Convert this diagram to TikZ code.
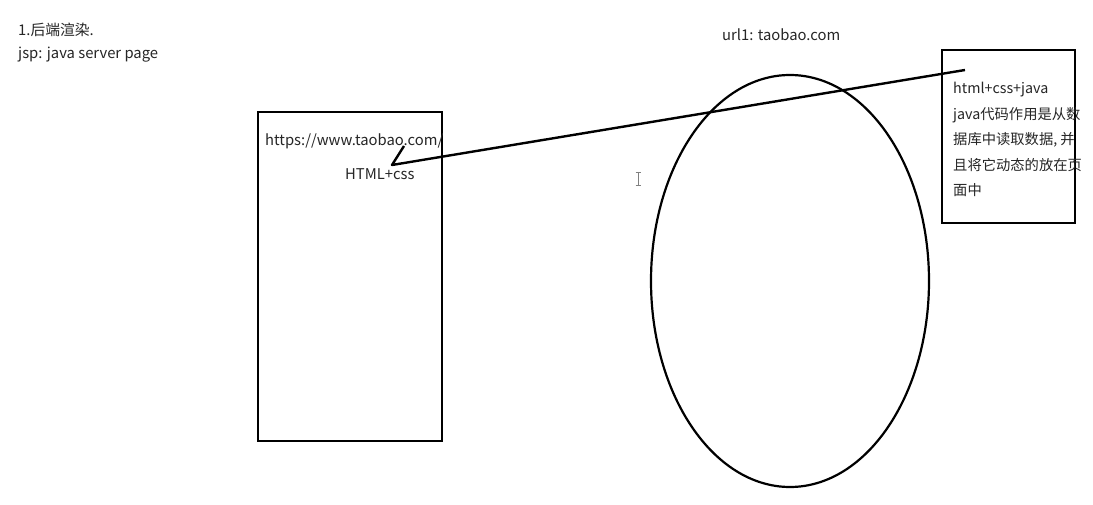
\documentclass[tikz,border=0pt]{standalone}
\usepackage{fontspec}
\setmainfont{Noto Sans CJK SC}
\begin{document}
\begin{tikzpicture}[x=1pt,y=-1pt,
  txt/.style={anchor=west,inner sep=0pt,font=\fontsize{14.8}{17}\selectfont,text=black!85},
  ctxt/.style={txt,font=\fontsize{14.3}{17}\selectfont},
  box/.style={draw,line width=2.2pt},
  pen/.style={line width=2.4pt,line join=round}]
\useasboundingbox[fill=white] (0,0) rectangle (1093,505);
\node[txt] (t1) at (18,30) {1.后端渲染.};
\node[txt] (t2) at (18,55) {jsp: java server page};
\node[txt] (url) at (722,35) {url1: taobao.com};
\draw[box] (258,112) rectangle (442,441);
\node[txt] (addr) at (265,141) {https://www.taobao.com/};
\node[txt] (html) at (345,174) {HTML+css};
\draw[box] (942,50) rectangle (1075,223);
\node[ctxt] (r1) at (953,90) {html+css+java};
\node[ctxt] (r2) at (953,115) {java代码作用是从数};
\node[ctxt] (r3) at (953,140) {据库中读取数据, 并};
\node[ctxt] (r4) at (953,165) {且将它动态的放在页};
\node[ctxt] (r5) at (953,190) {面中};
\draw[line width=2.2pt] (790,281) ellipse [x radius=139, y radius=206];
\coordinate (s) at (965,70);
\coordinate (tip) at (392,165);
\coordinate (hk) at (404,146);
\draw[pen] (s) -- (tip) -- (hk);
\draw[gray,line width=0.8pt] (638,172) -- (638,185) (635.5,172) -- (640.5,172) (635.5,185) -- (640.5,185);
\end{tikzpicture}
\end{document}
